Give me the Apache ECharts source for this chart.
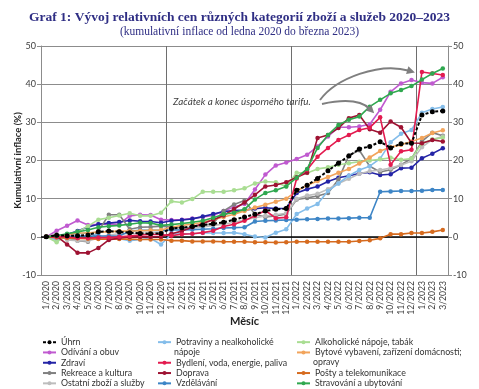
<!DOCTYPE html>
<html><head><meta charset="utf-8">
<script src="https://cdn.jsdelivr.net/npm/echarts@6/dist/echarts.min.js"></script>
<style>html,body{margin:0;padding:0;background:#fff}#c{width:479px;height:389px}</style>
</head><body><div id="c"></div>
<script>
const categories = ['1/2020','2/2020','3/2020','4/2020','5/2020','6/2020','7/2020','8/2020','9/2020','10/2020','11/2020','12/2020',
 '1/2021','2/2021','3/2021','4/2021','5/2021','6/2021','7/2021','8/2021','9/2021','10/2021','11/2021','12/2021',
 '1/2022','2/2022','3/2022','4/2022','5/2022','6/2022','7/2022','8/2022','9/2022','10/2022','11/2022','12/2022',
 '1/2023','2/2023','3/2023'];
const yTicks = [-10, 0, 10, 20, 30, 40, 50];

const uhrn       = [0,0.4,0.3,0.3,0.5,1.3,1.5,1.3,1.1,0.9,0.8,0.9,2.2,2.4,2.7,3.1,3.4,3.8,4.5,5.2,5.9,6.8,7.2,7.4,12.2,13.5,15.3,17.3,19.3,21.2,23.0,23.7,24.9,23.3,24.4,24.5,31.9,32.8,33.0];
const odivani    = [0,1.6,2.9,4.3,3.1,3.3,3.4,3.3,5.5,5.8,5.7,4.5,4.4,4.5,4.8,5.2,5.6,6.8,7.8,8.6,12.4,16.3,18.7,19.5,20.4,21.5,23.7,26.3,28.7,28.7,28.9,29.5,33.3,38.0,40.2,41.1,40.4,40.2,41.8];
const zdravi     = [0,0.3,0.6,1.5,2.6,3.3,3.6,3.9,4.3,4.1,4.0,3.7,4.2,4.4,4.7,5.3,6.0,6.6,6.9,7.0,7.4,7.6,7.4,7.5,11.5,12.5,13.2,14.5,15.5,16.0,16.6,16.9,16.2,16.4,18.0,18.1,20.6,21.8,23.2];
const rekreace   = [0,0.6,-0.3,-1.0,-1.3,1.5,5.8,5.8,2.0,2.5,2.6,2.8,2.5,2.3,2.5,3.0,3.5,6.8,8.5,9.5,5.9,5.2,5.5,6.0,9.8,10.2,10.7,11.5,15.0,21.3,22.7,18.5,17.0,17.6,18.9,20.5,25.0,27.3,26.5];
const ostatni    = [0,0.5,-0.8,-1.0,-1.1,-0.3,0.5,0.8,0.8,0.9,1.0,1.2,2.0,2.0,2.3,2.6,3.0,3.3,3.8,4.4,5.0,5.5,5.8,6.2,10.0,10.8,11.3,12.5,14.0,15.2,16.5,17.2,17.5,18.0,18.8,19.8,23.5,25.5,26.3];
const potraviny  = [0,-0.8,0.2,0.8,1.0,0.3,-0.3,-0.5,-1.0,-0.7,-0.4,-2.0,0.7,0.8,0.8,1.0,1.0,1.0,1.1,0.7,0.1,-0.2,1.1,2.0,6.0,7.4,8.6,12.0,14.0,16.0,17.5,18.5,20.5,24.8,27.0,28.0,32.5,33.5,34.0];
const bydleni    = [0,0,0,-0.3,-0.3,-0.2,-0.2,0,0.2,0.5,0.6,0.6,0.3,0.7,0.8,1.1,1.6,2.7,3.3,4.2,5.5,6.9,4.9,5.1,15.3,17.6,21.0,23.3,25.4,26.7,28.0,28.6,31.3,18.9,22.4,22.8,43.2,42.8,42.4];
const doprava    = [0,0.2,-2.0,-4.2,-4.2,-2.9,-0.8,-0.3,0,0,0,0.1,0.8,1.5,2.5,3.5,4.5,5.6,7.3,9.0,11.0,13.2,13.6,14.3,15.6,16.8,25.9,26.7,28.5,31.1,31.9,28.2,27.3,30.2,28.7,24.6,24.5,25.4,25.0];
const vzdelavani = [0,0,0,0.2,0.2,0.2,0.2,0.2,1.5,1.7,1.7,1.7,1.8,1.8,1.9,2.0,2.1,2.3,2.4,2.5,4.0,4.2,4.3,4.4,4.5,4.6,4.7,4.8,4.8,4.9,5.0,5.0,11.8,11.9,12.0,12.0,12.1,12.3,12.3];
const alkohol    = [0,-1.4,0.5,1.3,2.8,4.5,5.0,5.6,6.2,5.5,5.5,6.3,9.3,9.0,9.9,11.8,11.8,11.8,12.2,12.7,14.0,14.5,14.3,13.2,16.8,16.7,17.8,18.2,18.9,19.3,19.7,20.0,20.3,20.7,20.2,20.5,24.5,25.5,26.0];
const bytove     = [0,0.2,0.5,1.0,1.0,1.3,1.3,1.5,1.5,1.6,1.7,1.8,2.5,3.0,3.3,3.8,4.5,5.2,5.9,6.8,7.7,8.4,9.2,10.0,12.0,13.5,14.6,15.7,16.8,17.8,19.2,20.8,22.5,23.5,24.1,25.0,25.9,27.2,27.9];
const posty      = [0,-0.2,-0.3,-0.4,-0.5,-0.6,-0.6,-0.6,-0.6,-0.7,-0.7,-0.7,-1.0,-1.0,-1.2,-1.2,-1.2,-1.3,-1.3,-1.3,-1.4,-1.4,-1.5,-1.4,-1.3,-1.3,-1.3,-1.3,-1.3,-1.3,-1.1,-0.9,-0.4,0.7,0.7,1.0,1.0,1.3,1.8];
const stravovani = [0,0.3,0.8,1.3,1.8,2.5,2.8,3.0,3.3,3.7,3.6,3.0,3.2,3.5,3.8,4.2,5.0,5.9,6.3,7.2,9.8,11.5,12.2,13.2,15.5,17.8,23.3,26.7,29.3,30.7,31.5,34.1,35.9,37.6,38.5,39.5,41.2,42.8,44.1];

const N = {
  uhrn:'Úhrn', odiv:'Odívání a obuv', zdr:'Zdraví', rek:'Rekreace a kultura', ost:'Ostatní zboží a služby',
  pot:'Potraviny a nealkoholické nápoje', byd:'Bydlení, voda, energie, paliva', dop:'Doprava', vzd:'Vzdělávání',
  alk:'Alkoholické nápoje, tabák', bytv:'Bytové vybavení, zařízení domácnosti; opravy', post:'Pošty a telekomunikace', strav:'Stravování a ubytování'
};

const defs = [
  [N.odiv, odivani, '#c05ad0'],
  [N.zdr, zdravi, '#2424a6'],
  [N.rek, rekreace, '#808080'],
  [N.ost, ostatni, '#bdbdbd'],
  [N.pot, potraviny, '#84bdea'],
  [N.vzd, vzdelavani, '#3d85c6'],
  [N.alk, alkohol, '#a9dd92'],
  [N.bytv, bytove, '#f2a45b'],
  [N.post, posty, '#d66b1f'],
  [N.dop, doprava, '#9e1232'],
  [N.byd, bydleni, '#e31b4f'],
  [N.strav, stravovani, '#2fa84f'],
  [N.uhrn, uhrn, '#000000']
];

const FONT = 'Lato';
const series = defs.map((d, i) => {
  const s = {
    name: d[0], type: 'line', data: d[1], symbol: 'circle', symbolSize: 4.5,
    lineStyle: { color: d[2], width: 1.6, type: d[0] === N.uhrn ? [3, 2] : 'solid' },
    itemStyle: { color: d[2] }, z: 2 + i * 0.01, animation: false,
    emphasis: { disabled: true }
  };
  if (d[0] === N.uhrn) { s.symbolSize = 5; s.lineStyle.width = 2; }
  if (i === 0) {
    s.markLine = { silent: true, symbol: 'none', z: 1, animation: false, label: { show: false },
      lineStyle: { color: '#000', width: 1.5, type: 'solid' }, data: [{ yAxis: 0 }] };
  }
  return s;
});

const legBase = {
  orient: 'vertical', itemWidth: 13, itemHeight: 5, itemGap: 0, padding: 0,
  textStyle: { fontFamily: FONT, fontSize: 8.8, color: '#333', lineHeight: 10.3 },
  selectedMode: false
};
const rowH = 10.3, legTop = 337;
const shortName = n => n === N.pot ? 'Potraviny a nealkoholické' : (n === N.bytv ? 'Bytové vybavení, zařízení domácnosti;' : n);
const legends = [
  Object.assign({}, legBase, { left: 42, top: legTop, data: [N.uhrn, N.odiv, N.zdr, N.rek, N.ost] }),
  Object.assign({}, legBase, { left: 157, top: legTop, data: [N.pot], formatter: shortName }),
  Object.assign({}, legBase, { left: 157, top: legTop + 2 * rowH, data: [N.byd, N.dop, N.vzd] }),
  Object.assign({}, legBase, { left: 296, top: legTop, data: [N.alk, N.bytv], formatter: shortName }),
  Object.assign({}, legBase, { left: 296, top: legTop + 3 * rowH, data: [N.post, N.strav] })
];

const axisLbl = { fontFamily: FONT, fontSize: 9, color: '#404040' };
const option = {
  animation: false,
  textStyle: { fontFamily: FONT },
  title: [
    { text: 'Graf 1: Vývoj relativních cen různých kategorií zboží a služeb 2020–2023', left: 'center', top: 6,
      textStyle: { fontFamily: 'Liberation Serif', fontWeight: 'bold', fontSize: 13.5, color: '#2f2e84' } },
    { text: '(kumulativní inflace od ledna 2020 do března 2023)', left: 'center', top: 21,
      textStyle: { fontFamily: 'Liberation Serif', fontWeight: 'normal', fontSize: 11.5, color: '#2f2e84' } }
  ],
  legend: legends,
  grid: { left: 41, right: 31, top: 46, bottom: 114, containLabel: false },
  xAxis: {
    type: 'category', data: categories, boundaryGap: true,
    name: 'Měsíc', nameLocation: 'middle', nameGap: 41, nameMoveOverlap: false,
    nameTextStyle: { fontFamily: FONT, fontWeight: 'bold', fontSize: 11, color: '#222' },
    axisLine: { onZero: false, lineStyle: { color: '#8c8c8c', width: 1 } },
    axisTick: { show: false },
    axisLabel: Object.assign({}, axisLbl, { rotate: 90, interval: 0, margin: 6, fontSize: 8.6 }),
    splitLine: { show: true, interval: (idx) => idx % 12 === 0, lineStyle: { color: '#6e6e6e', width: 1 } }
  },
  yAxis: [
    { type: 'value', min: -10, max: 50, interval: 10, position: 'left',
      name: 'Kumulativní inflace (%)', nameLocation: 'middle', nameGap: 18, nameMoveOverlap: false,
      nameTextStyle: { fontFamily: FONT, fontWeight: 'bold', fontSize: 9.5, color: '#222' },
      axisLine: { show: true, lineStyle: { color: '#8c8c8c' } },
      axisTick: { show: true, length: 4, lineStyle: { color: '#8c8c8c' } },
      axisLabel: Object.assign({}, axisLbl, { margin: 5 }),
      splitLine: { show: true, lineStyle: { color: '#8c8c8c', width: 1 } } },
    { type: 'value', min: -10, max: 50, interval: 10, position: 'right',
      axisLine: { show: true, lineStyle: { color: '#8c8c8c' } },
      axisTick: { show: true, length: 4, lineStyle: { color: '#8c8c8c' } },
      axisLabel: Object.assign({}, axisLbl, { margin: 5 }),
      splitLine: { show: false } }
  ],
  series: series
};

const chart = echarts.init(document.getElementById('c'));
chart.setOption(option);

// annotations
function arrowEls(p0, c1, c2, tip) {
  const a = Math.atan2(tip[1] - c2[1], tip[0] - c2[0]);
  const L = 8, W = 4;
  const bx = tip[0] - L * Math.cos(a), by = tip[1] - L * Math.sin(a);
  const nx = -Math.sin(a), ny = Math.cos(a);
  return [
    { type: 'bezierCurve', silent: true, z: 50,
      shape: { x1: p0[0], y1: p0[1], cpx1: c1[0], cpy1: c1[1], cpx2: c2[0], cpy2: c2[1], x2: bx + 2 * Math.cos(a), y2: by + 2 * Math.sin(a) },
      style: { stroke: '#7f7f7f', lineWidth: 2, fill: null } },
    { type: 'polygon', silent: true, z: 50,
      shape: { points: [tip, [bx + W * nx, by + W * ny], [bx - W * nx, by - W * ny]] },
      style: { fill: '#7f7f7f' } }
  ];
}
const pJump = chart.convertToPixel({ xAxisIndex: 0, yAxisIndex: 0 }, [36, bydleni[36]]);
const pPeak = chart.convertToPixel({ xAxisIndex: 0, yAxisIndex: 0 }, [32, bydleni[32]]);
const tip1 = [pJump[0] - 7, pJump[1] + 0.5];
const tip2 = [pPeak[0] - 6, pPeak[1] - 4];
const graphics = [
  { type: 'text', silent: true, z: 50, left: 173, top: 97,
    style: { text: 'Začátek a konec úsporného tarifu.', font: 'italic 9.8px Lato', fill: '#404040' } },
  { type: 'text', silent: true, z: 50, left: 174, top: 347.5,
    style: { text: 'nápoje', font: '8.8px Lato', fill: '#333' } },
  { type: 'text', silent: true, z: 50, left: 313, top: 357.8,
    style: { text: 'opravy', font: '8.8px Lato', fill: '#333' } }
].concat(
  arrowEls([320, 100], [336, 78], [380, 62], tip1),
  arrowEls([322, 104], [345, 99], [362, 101], tip2)
);
chart.setOption({ graphic: graphics });
</script>
</body></html>
